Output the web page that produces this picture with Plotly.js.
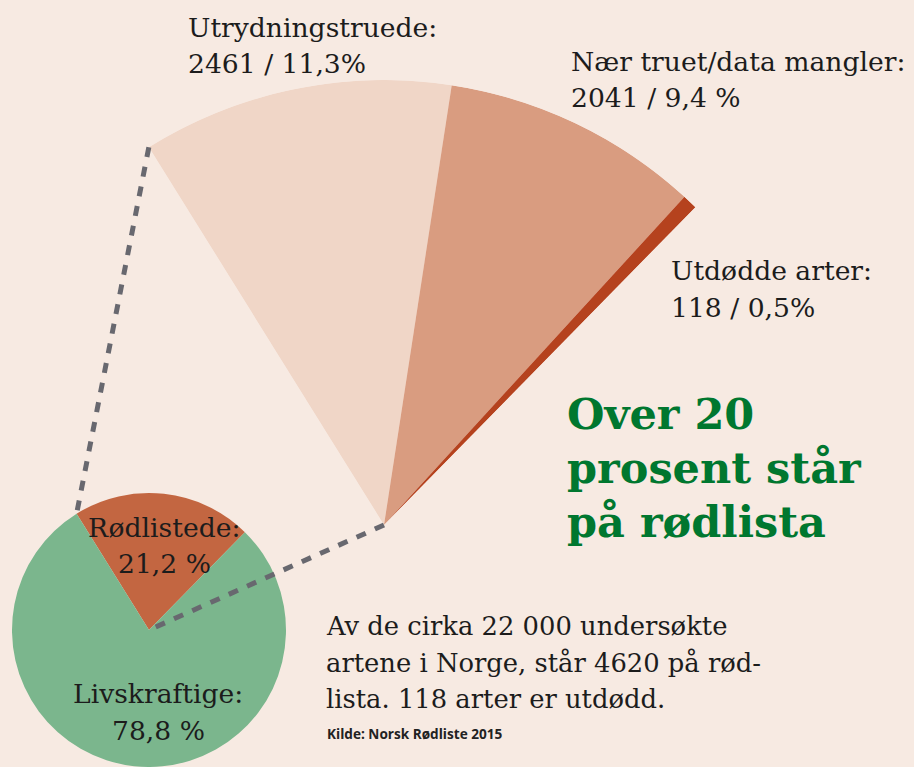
<!DOCTYPE html>
<html><head><meta charset="utf-8">
<script src="https://cdn.plot.ly/plotly-3.0.1.min.js"></script>
<style>html,body{margin:0;padding:0;background:#F7EAE2;overflow:hidden}#chart{width:914px;height:767px}</style>
</head><body><div id="chart"></div>
<script>
// ---------- data ----------
const mainLabels = ['Rødlistede', 'Livskraftige'];
const mainValues = [21.2, 78.8];
const mainPctText = ['21,2 %', '78,8 %'];
const mainColors = ['#C36641', '#7BB68D'];

const redLabels = ['Utrydningstruede', 'Nær truet/data mangler', 'Utdødde arter'];
const redValues = [2461, 2041, 118];
const redPctText = ['11,3%', '9,4 %', '0,5%'];
const redColors = ['#F0D6C7', '#D99C80', '#B5421E'];

const titleLines = ['Over 20', 'prosent står', 'på rødlista'];
const bodyLines = ['Av de cirka 22 000 undersøkte', 'artene i Norge, står 4620 på rød-', 'lista. 118 arter er utdødd.'];
const sourceText = 'Kilde: Norsk Rødliste 2015';

// ---------- geometry ----------
const W = 914, H = 767;
const BG = '#F7EAE2';
const startAngle = -31.9;               // clockwise from 12 o'clock
const mainSum = mainValues.reduce((a, b) => a + b, 0);
const span = mainValues[0] / mainSum * 360;

// small pie
const pcx = 149, pcy = 630, pr = 137;
// fan (exploded red-list)
const fcx = 384, fcy = 525, fr = 445;

const px2x = v => v / W, py2y = v => 1 - v / H;
const rad = d => d * Math.PI / 180;

// fan polar theta / width from values
const redSum = redValues.reduce((a, b) => a + b, 0);
let cum = 0;
const thetas = [], widths = [];
redValues.forEach(v => {
  const w = v / redSum * span;
  thetas.push(startAngle + (cum + w / 2));
  widths.push(w);
  cum += w;
});

// sector in screen angles (ccw from east)
const a0 = 90 - (startAngle + span), a1 = 90 - startAngle;
const cxs = [Math.cos(rad(a0)), Math.cos(rad(a1)), 0];
const bx0 = Math.min(...cxs), bx1 = Math.max(...cxs);
const by1 = (a0 <= 90 && a1 >= 90) ? 1 : Math.max(Math.sin(rad(a0)), Math.sin(rad(a1)));
const by0 = 0;
const polarDomain = {
  x: [px2x(fcx + fr * bx0), px2x(fcx + fr * bx1)],
  y: [py2y(fcy - fr * by0), py2y(fcy - fr * by1)]
};

const traces = [
  {
    type: 'pie', labels: mainLabels, values: mainValues, sort: false,
    direction: 'clockwise', rotation: startAngle,
    marker: {colors: mainColors, line: {width: 0}},
    textinfo: 'none', hoverinfo: 'label+percent',
    domain: {x: [px2x(pcx - pr), px2x(pcx + pr)], y: [Math.max(0, py2y(pcy + pr)), py2y(pcy - pr)]}
  },
  {
    type: 'barpolar', r: redValues.map(() => 1), theta: thetas, width: widths,
    text: redLabels, hoverinfo: 'text',
    marker: {color: redColors, line: {width: 0}},
    subplot: 'polar'
  }
];

// ---------- text ----------
const annotations = [];
function addLines(lines, x, baseline0, spacing, font, xanchor, ascDesc) {
  lines.forEach((t, i) => {
    const b = baseline0 + i * spacing;
    const mid = b - ascDesc * font.size;
    annotations.push({
      xref: 'paper', yref: 'paper', x: px2x(x), y: py2y(mid),
      xanchor: xanchor, yanchor: 'middle', showarrow: false, text: t,
      font: font, borderpad: 0
    });
  });
}
const labFont = {family: 'DejaVu Serif', size: 26.6, color: '#1c1c1c'};
const bodyFont = {family: 'DejaVu Serif', size: 25.8, color: '#1c1c1c'};
const SER = 0.346;
addLines([redLabels[0] + ':', redValues[0] + ' / ' + redPctText[0]], 187, 37, 36, labFont, 'left', SER);
addLines([redLabels[1] + ':', redValues[1] + ' / ' + redPctText[1]], 570, 71, 36, labFont, 'left', SER);
addLines([redLabels[2] + ':', redValues[2] + ' / ' + redPctText[2]], 670, 280, 37, labFont, 'left', SER);
addLines([mainLabels[0] + ':', mainPctText[0]], 164, 537, 36, labFont, 'center', SER);
addLines([mainLabels[1] + ':', mainPctText[1]], 158, 703, 37, labFont, 'center', SER);
addLines(bodyLines, 325, 635, 36.5, bodyFont, 'left', SER);
addLines(titleLines, 566, 429, 54, {family: 'DejaVu Serif', size: 43, color: '#00772F', weight: 'bold'}, 'left', SER);
addLines([sourceText], 326, 739, 0, {family: 'Open Sans', size: 13.6, color: '#222222', weight: 'bold'}, 'left', 0.388);

// ---------- connector lines ----------
const fanTipX = fcx + fr * Math.sin(rad(startAngle)), fanTipY = fcy - fr * Math.cos(rad(startAngle));
const pieTipX = pcx + pr * Math.sin(rad(startAngle)), pieTipY = pcy - pr * Math.cos(rad(startAngle));
const dashLine = {color: '#68686F', width: 5, dash: '10px,10px'};
const shapes = [
  {type: 'line', xref: 'paper', yref: 'paper', x0: px2x(fanTipX), y0: py2y(fanTipY), x1: px2x(pieTipX), y1: py2y(pieTipY), line: dashLine},
  {type: 'line', xref: 'paper', yref: 'paper', x0: px2x(fcx), y0: py2y(fcy), x1: px2x(pcx), y1: py2y(pcy), line: dashLine}
];

const layout = {
  width: W, height: H,
  margin: {l: 0, r: 0, t: 0, b: 0},
  paper_bgcolor: BG, plot_bgcolor: BG,
  showlegend: false,
  polar: {
    domain: polarDomain,
    sector: [a0, a1],
    bgcolor: 'rgba(0,0,0,0)',
    bargap: 0,
    radialaxis: {visible: false, range: [0, 1]},
    angularaxis: {visible: false, rotation: 90, direction: 'clockwise'}
  },
  annotations: annotations,
  shapes: shapes
};

Plotly.newPlot('chart', traces, layout, {displayModeBar: false, staticPlot: true});
</script>
</body></html>
